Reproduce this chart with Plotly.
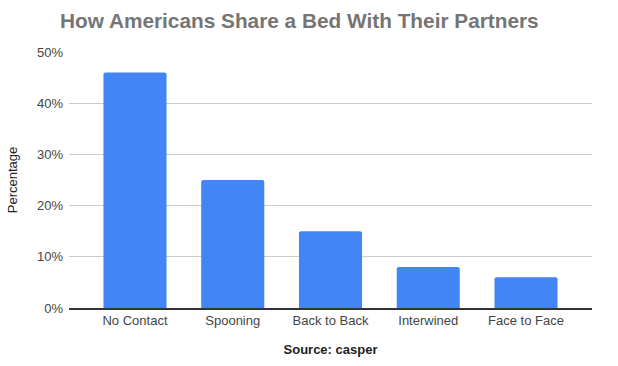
import plotly.graph_objects as go

categories = ["No Contact", "Spooning", "Back to Back", "Interwined", "Face to Face"]
values = [46, 25, 15, 8, 6]
y_ticks = [0, 10, 20, 30, 40, 50]
y_tick_labels = ["0%", "10%", "20%", "30%", "40%", "50%"]

fig = go.Figure(go.Bar(
    x=categories, y=values,
    marker=dict(color="#4285F4", cornerradius=2, line=dict(width=0)),
    width=0.645,
))

fig.update_layout(
    width=618, height=366,
    margin=dict(l=69, r=26, t=51.5, b=58, autoexpand=False),
    paper_bgcolor="white", plot_bgcolor="white",
    font=dict(family="Liberation Sans, Arial, sans-serif", size=13, color="#444444"),
    title=dict(text="<b>How Americans Share a Bed With Their Partners</b>",
               x=60/618, xanchor="left", y=1-21/366, yanchor="middle",
               font=dict(size=20.8, color="#757575")),
    showlegend=False,
    xaxis=dict(range=[-0.675, 4.675], showgrid=False, showline=True, linecolor="#333333",
               linewidth=1.5, ticks="", tickfont=dict(size=13, color="#444444"),
               automargin=False,
               title=dict(text="<b>Source: casper</b>", font=dict(size=13, color="#222222"), standoff=18)),
    yaxis=dict(range=[0, 50], tickvals=y_ticks, ticktext=y_tick_labels,
               showgrid=True, gridcolor="#cccccc", gridwidth=1, zeroline=False,
               showline=False, ticks="", tickfont=dict(size=13, color="#444444"),
               ticklabelstandoff=5, automargin=False,
               title=dict(text="Percentage", font=dict(size=13, color="#222222"), standoff=16)),
)

fig.write_html("out.html", config={"displayModeBar": False},
               post_script="document.body.style.margin='0px';document.body.style.overflow='hidden';")
